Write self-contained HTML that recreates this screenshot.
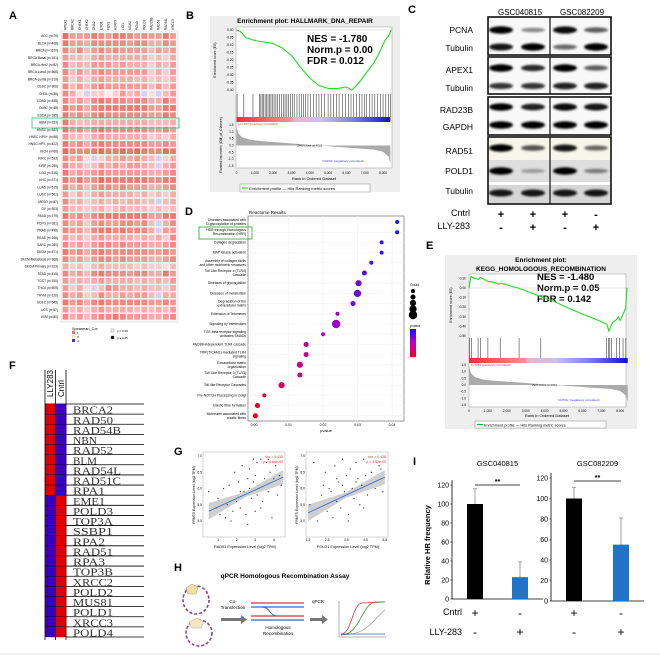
<!DOCTYPE html>
<html><head><meta charset="utf-8"><style>
html,body{margin:0;padding:0;background:#fff;}
svg{display:block;font-family:"Liberation Sans",sans-serif;}
.lbl{font-weight:bold;font-size:11px;}
</style></head><body>
<svg id="fig" width="660" height="656" viewBox="0 0 660 656" xmlns="http://www.w3.org/2000/svg">
<defs>
<filter id="blur" x="-20%" y="-100%" width="140%" height="300%"><feGaussianBlur stdDeviation="1.1"/></filter>
<linearGradient id="bcol" x1="0" x2="1"><stop offset="0" stop-color="#f03030"/><stop offset="0.35" stop-color="#f59090"/><stop offset="0.38" stop-color="#f0b0d0"/><stop offset="0.55" stop-color="#c8c0f0"/><stop offset="0.75" stop-color="#8080ee"/><stop offset="1" stop-color="#1010d0"/></linearGradient>
<linearGradient id="pcol" x1="0" x2="0" y1="0" y2="1"><stop offset="0" stop-color="#1010f0"/><stop offset="0.5" stop-color="#c000c0"/><stop offset="1" stop-color="#f00020"/></linearGradient>
</defs>
<text class="lbl" x="9" y="19">A</text>
<text class="lbl" x="186" y="19">B</text>
<text class="lbl" x="408" y="13">C</text>
<text class="lbl" x="185" y="215">D</text>
<text class="lbl" x="426" y="249">E</text>
<text class="lbl" x="9" y="369">F</text>
<text class="lbl" x="174" y="455">G</text>
<text class="lbl" x="174" y="571">H</text>
<text class="lbl" x="413" y="465">I</text>

<g id="A">
<rect x="61" y="31" width="117" height="291" fill="#fafafa" stroke="#e4e4e4"/>
</g>
<g id="B">
<rect x="210" y="16" width="190" height="176" fill="#eeeeee"/>
<text x="305" y="23" font-size="6.5" font-weight="bold" text-anchor="middle">Enrichment plot: HALLMARK_DNA_REPAIR</text>
<rect x="236" y="27" width="156" height="141" fill="#fff" stroke="#999" stroke-width="0.5"/>
<text x="307" y="42" font-size="10" font-weight="bold">NES = -1.780</text>
<text x="307" y="53" font-size="10" font-weight="bold">Norm.p = 0.00</text>
<text x="307" y="64" font-size="10" font-weight="bold">FDR = 0.012</text>
<text x="314" y="180" font-size="4" text-anchor="middle">Rank in Ordered Dataset</text>
<text transform="translate(216,60) rotate(-90)" font-size="3.5" text-anchor="middle">Enrichment score (ES)</text>
<text transform="translate(222,145) rotate(-90)" font-size="3.5" text-anchor="middle">Ranked list metric (Diff_of_Classes)</text>
<rect x="240" y="184" width="130" height="8" fill="#fff" stroke="#888" stroke-width="0.5"/>
<line x1="242" y1="188" x2="248" y2="188" stroke="#0c0"/>
<text x="249" y="190" font-size="4">Enrichment profile — Hits     Ranking metric scores</text>
</g>
<g id="C">
<text x="520" y="15" font-size="8" text-anchor="middle">GSC040815</text>
<text x="582" y="15" font-size="8" text-anchor="middle">GSC082209</text>
</g>
<g id="D">
<text x="249" y="214" font-size="4.5">Reactome Results</text>
<rect x="248" y="216" width="156" height="205" fill="#fff" stroke="#555" stroke-width="0.6"/>
<text x="326" y="432" font-size="4" text-anchor="middle">pvalue</text>
<rect x="199" y="227" width="53" height="12" fill="none" stroke="#2a2" stroke-width="0.8"/>
<text x="410" y="286" font-size="3.5">Count</text>
<text x="410" y="327" font-size="3.5">pvalue</text>
<rect x="410" y="329" width="6" height="28" fill="url(#pcol)"/>
</g>
<g id="E">
<rect x="445" y="255" width="192" height="174" fill="#eeeeee"/>
<text x="541" y="262" font-size="6.5" font-weight="bold" text-anchor="middle">Enrichment plot:</text>
<text x="541" y="271" font-size="6.5" font-weight="bold" text-anchor="middle">KEGG_HOMOLOGOUS_RECOMBINATION</text>
<rect x="469" y="274" width="157" height="133" fill="#fff" stroke="#999" stroke-width="0.5"/>
<text x="537" y="280" font-size="9.5" font-weight="bold">NES = -1.480</text>
<text x="537" y="291" font-size="9.5" font-weight="bold">Norm.p = 0.05</text>
<text x="537" y="302" font-size="9.5" font-weight="bold">FDR = 0.142</text>
<text x="547" y="417" font-size="4" text-anchor="middle">Rank in Ordered Dataset</text>
<text transform="translate(452,305) rotate(-90)" font-size="3.5" text-anchor="middle">Enrichment score (ES)</text>
<rect x="475" y="421" width="131" height="7" fill="#fff" stroke="#888" stroke-width="0.5"/>
<line x1="477" y1="424.5" x2="483" y2="424.5" stroke="#0c0"/>
<text x="484" y="426.5" font-size="3.8">Enrichment profile — Hits     Ranking metric scores</text>
</g>
<g id="F">
<text transform="translate(53,397) rotate(-90)" font-size="8">LLY283</text>
<text transform="translate(64,397) rotate(-90)" font-size="8">Cntrl</text>
<line x1="45" y1="370" x2="45" y2="640" stroke="#000" stroke-width="0.8"/>
<line x1="55.5" y1="370" x2="55.5" y2="640" stroke="#000" stroke-width="0.8"/>
<line x1="66" y1="370" x2="66" y2="640" stroke="#000" stroke-width="0.8"/>
<line x1="45" y1="404" x2="144" y2="404" stroke="#000" stroke-width="0.8"/>
</g>
<g id="G"></g>
<g id="H">
<text x="285" y="578" font-size="6.5" font-weight="bold" text-anchor="middle">qPCR Homologous Recombination Assay</text>
<g>
<ellipse cx="196" cy="600" rx="13" ry="14" fill="none" stroke="#d33" stroke-width="1.6" stroke-dasharray="3 2"/>
<ellipse cx="196" cy="600" rx="13" ry="14" fill="none" stroke="#36c" stroke-width="1.2" stroke-dasharray="2 3"/>
<path d="M186 588 l6 -4 l6 3 l-2 7 l-8 0 z" fill="#f3e0a0" stroke="#b88" stroke-width="0.5"/>
</g>
<g>
<ellipse cx="199" cy="633" rx="13" ry="13" fill="none" stroke="#d33" stroke-width="1.6" stroke-dasharray="3 2"/>
<ellipse cx="199" cy="633" rx="13" ry="13" fill="none" stroke="#36c" stroke-width="1.2" stroke-dasharray="2 3"/>
<path d="M189 622 l8 -4 l7 4 l-3 6 l-9 0 z" fill="#f3e8c0" stroke="#aaa" stroke-width="0.5"/>
</g>
<text x="233" y="603" font-size="4.5" text-anchor="middle">Co-</text>
<text x="233" y="609" font-size="4.5" text-anchor="middle">Transfection</text>
<path d="M221 618 h20 v-3 l6 4.5 l-6 4.5 v-3 h-20 z" fill="#777"/>
<g>
<line x1="251" y1="603" x2="304" y2="603" stroke="#d33" stroke-width="1.2"/>
<line x1="251" y1="607" x2="304" y2="607" stroke="#36c" stroke-width="1.2"/>
<line x1="251" y1="616" x2="304" y2="616" stroke="#d33" stroke-width="1.2"/>
<line x1="251" y1="620" x2="304" y2="620" stroke="#36c" stroke-width="1.2"/>
<path d="M262 607 q5 0 8 5 q3 4 8 4" fill="none" stroke="#36c" stroke-width="1"/>
</g>
<text x="278" y="629" font-size="4.5" text-anchor="middle">Homologous</text>
<text x="278" y="635" font-size="4.5" text-anchor="middle">Recombination</text>
<text x="318" y="603" font-size="4.5" text-anchor="middle">qPCR</text>
<path d="M310 618 h12 v-3 l6 4.5 l-6 4.5 v-3 h-12 z" fill="#777"/>
<g>
<line x1="339" y1="601" x2="339" y2="637" stroke="#666" stroke-width="0.5"/>
<line x1="339" y1="637" x2="386" y2="637" stroke="#666" stroke-width="0.5"/>
<path d="M341 634 C352 634 352 604 362 603 L385 602" fill="none" stroke="#d33" stroke-width="0.8"/>
<path d="M341 635 C360 635 362 604 375 602 L385 602" fill="none" stroke="#393" stroke-width="0.8"/>
<path d="M341 635 C368 635 372 620 385 610" fill="none" stroke="#88a" stroke-width="0.6"/>
<line x1="341" y1="634" x2="385" y2="634" stroke="#36c" stroke-width="0.8"/>
</g>
</g>
<g id="I">
<text transform="translate(430,545) rotate(-90)" font-size="7.5" font-weight="bold" text-anchor="middle">Relative HR frequency</text>
<text x="462" y="615" font-size="9" text-anchor="end">Cntrl</text>
<text x="462" y="635" font-size="9" text-anchor="end">LLY-283</text>
</g>
<line x1="0" y1="654" x2="660" y2="654" stroke="#ddd"/>
</svg>
<script>
const NS='http://www.w3.org/2000/svg';
function mk(p,tag,a,t){const e=document.createElementNS(NS,tag);for(const k in a)e.setAttribute(k,a[k]);if(t!=null)e.textContent=t;p.appendChild(e);return e;}

/* ---------- A: pan-cancer heatmap ---------- */
const cancerTypes=["ACC (n=79)","BLCA (n=408)","BRCA (n=1100)","BRCA-Basal (n=191)","BRCA-Her2 (n=82)","BRCA-LumA (n=568)","BRCA-LumB (n=219)","CESC (n=306)","CHOL (n=36)","COAD (n=458)","DLBC (n=48)","ESCA (n=185)","GBM (n=153)","HNSC (n=522)","HNSC-HPV+ (n=98)","HNSC-HPV- (n=422)","KICH (n=66)","KIRC (n=533)","KIRP (n=290)","LGG (n=516)","LIHC (n=371)","LUAD (n=515)","LUSC (n=501)","MESO (n=87)","OV (n=303)","PAAD (n=179)","PCPG (n=181)","PRAD (n=498)","READ (n=166)","SARC (n=260)","SKCM (n=471)","SKCM-Metastasis (n=368)","SKCM-Primary (n=103)","STAD (n=415)","TGCT (n=150)","THCA (n=509)","THYM (n=120)","UCEC (n=545)","UCS (n=57)","UVM (n=80)"];
const repairGenes=["APEX1","BRCA2","CHEK1","CHEK2","DNA2","EXO1","FEN1","H2AFX","LIG1","MSH2","PCNA","POLD1","RAD23B","RAD51","RAD54L","XRCC3"];
const corrRows=["9666876887676686","8665777776775576","7574676766664656","6443565555553435","7454666565553546","7464676666663536","6353565555453435","7464676666664646","752n3313645n2n46","7564787776775586","8675788888886688","8675787777776687","8544555555554445","8675787777776676","6443565555553435","8675787777776676","9777898898987798","7562n35565654n35","7553465656654n56","8565676666665567","8686798888887788","7564677676665567","6353565555453435","7453454545544n45","6443453454443434","8675788888886688","7563676677674n57","7664788787775n66","6453565555454537","7564677676665567","8675787777776676","7564677676665567","5342454444343324","7564787776775586","6454565555454546","6352n47655454435","7563475565664n55","8675787777776676","6453565555454546","7564677876665567"];
(function(){
 const g=document.getElementById('A');
 const x0=65.5,y0=36,dx=7.17,dy=7.2;
 repairGenes.forEach((gn,j)=>{
  const t=mk(g,'text',{transform:`translate(${x0+j*dx+1},30) rotate(-90)`,'font-size':3.2});
  t.textContent=gn;
  
  
 });
 cancerTypes.forEach((ct,i)=>{
  const t=mk(g,'text',{x:58,y:y0+i*dy+1.2,'font-size':3.2,'text-anchor':'end'},ct);
  
  
  corrRows[i].split('').forEach((ch,j)=>{
   let fill;
   if(ch==='n'){fill='#d8d0f4';}
   else{const v=(+ch)/9;fill=`rgb(${Math.round(255-20*v)},${Math.round(255-150*v)},${Math.round(255-160*v)})`;}
   const r=mk(g,'rect',{x:x0+j*dx-2.9,y:y0+i*dy-2.9,width:5.8,height:5.8,fill:fill});
   
   
  });
 });
 const b=mk(g,'rect',{x:32,y:118,width:147,height:10,fill:'none',stroke:'#3c8','stroke-width':0.9});
 
 
 const lt=mk(g,'text',{x:72,y:330,'font-size':3.8},'Spearman_Cor');
 
 
 [['#f07068','1',333],['#f3dada','0',337],['#5030c0','-1',341]].forEach(d=>{
  const r=mk(g,'rect',{x:72,y:d[2]-2,width:3,height:3,fill:d[0]});
  
  
  const t=mk(g,'text',{x:77,y:d[2]+1,'font-size':3},d[1]);
  
  
 });
 [['#fff','p > 0.05',331],['#000','p ≤ 0.05',338]].forEach(d=>{
  const r=mk(g,'rect',{x:111,y:d[2]-2,width:3,height:3,fill:d[0],stroke:'#777','stroke-width':0.4});
  
  
  const t=mk(g,'text',{x:117,y:d[2]+1,'font-size':3},d[1]);
  
  
 });
})();

/* ---------- GSEA helper ---------- */
const esRanksB=[0,200,500,1000,1500,2000,2500,3000,3500,4000,4500,5000,5500,6000,6300,6700,7000,7500,7800,8100,8300,8450];
const esValuesB=[0,-0.01,-0.05,-0.07,-0.08,-0.09,-0.12,-0.17,-0.25,-0.32,-0.37,-0.39,-0.39,-0.38,-0.40,-0.35,-0.30,-0.22,-0.15,-0.07,-0.04,0.0];
const hitsB=[30,400,900,1250,1330,1400,1480,1560,1650,1720,1800,1880,1950,2050,2150,2250,2350,2450,2560,2650,2750,2850,2950,3050,3150,3300,3420,3550,3650,3780,3900,4050,4200,4350,4500,4650,4800,5000,5150,5300,5450,5600,5800,5950,6100,6250,6400,6550,6700,6850,7000,7100,7250,7400,7550,7700,7850,8000,8150,8300,8400];
const esTicksB=[0,-0.05,-0.1,-0.15,-0.2,-0.25,-0.3,-0.35,-0.4];
const esRanksE=[0,100,300,500,600,900,1000,1300,1600,1700,2200,2600,3000,3800,4500,5500,6500,7000,7300,7400,7500,7600,7800,7900,8000,8200,8300,8350];
const esValuesE=[0,0.12,0.10,0.09,0.11,0.08,0.07,0.06,0.04,0.05,0.02,0.0,-0.03,-0.09,-0.14,-0.23,-0.31,-0.35,-0.38,-0.45,-0.40,-0.36,-0.33,-0.30,-0.34,-0.25,-0.20,0.0];
const hitsE=[40,120,480,620,1000,1650,2650,3800,7280,7380,7450,7550,7800,7950,8150,8300];
const esTicksE=[0.1,0.0,-0.1,-0.2,-0.3,-0.4,-0.5];
const rankTicks=[0,1000,2000,3000,4000,5000,6000,7000,8000];
const metricTicks=[1.5,1.0,0.5,0.0,-0.5,-1.0,-1.5];

function gsea(gid,o){
 const g=document.getElementById(gid);
 const X=r=>o.x0+r*o.kx, Y=v=>o.esZero-v*o.ky, M=v=>o.mZero-v*o.mk;
 o.esTicks.forEach(t=>{const e=mk(g,'text',{x:o.x0-3,y:Y(t)+1,'font-size':3.3,'text-anchor':'end'},t.toFixed(2));
  
  });
 const zl=mk(g,'line',{x1:o.x0,x2:X(8500),y1:Y(0),y2:Y(0),stroke:'#bbb','stroke-width':0.4});
 
 
 const pts=o.ranks.map((r,i)=>X(r).toFixed(1)+','+Y(o.vals[i]).toFixed(1)).join(' ');
 const pl=mk(g,'polyline',{points:pts,fill:'none',stroke:'#2d2','stroke-width':1.1});
 
 
 o.hits.forEach(h=>{const l=mk(g,'line',{x1:X(h),x2:X(h),y1:o.hitTop,y2:o.hitBot,stroke:'#000','stroke-width':0.45});
  
  });
 const cb=mk(g,'rect',{x:X(0),y:o.hitBot,width:X(8400)-X(0),height:5,fill:'url(#bcol)'});
 
 
 const pt=mk(g,'text',{x:X(0)+2,y:o.hitBot+8,'font-size':3,fill:'#e33'},'LLY283 (positively correlated)');
 
 
 const nt=mk(g,'text',{x:X(5800),y:M(-1.2),'font-size':3,fill:'#33e','text-anchor':'middle'},"'CNTRL' (negatively correlated)");
 
 
 metricTicks.forEach(t=>{const e=mk(g,'text',{x:o.x0-3,y:M(t)+1,'font-size':3.2,'text-anchor':'end'},t.toFixed(1));
  
  });
 const mr=[0,100,300,800,1500,2500,3500,4500,5500,6500,7500,8000,8300,8400];
 const mv=[1.4,0.9,0.6,0.4,0.3,0.2,0.1,0.0,-0.1,-0.2,-0.3,-0.45,-0.8,-1.3];
 let d=`M${X(0)},${M(0)} `+mr.map((r,i)=>`L${X(r).toFixed(1)},${M(mv[i]).toFixed(1)}`).join(' ')+` L${X(8400)},${M(0)} Z`;
 const ar=mk(g,'path',{d:d,fill:'#aaa'});
 
 
 const zt=mk(g,'text',{x:X(4000),y:M(0)+1,'font-size':3,'text-anchor':'middle'},'Zero cross at 4001');
 
 
 rankTicks.forEach(t=>{const e=mk(g,'text',{x:X(t),y:o.tickY,'font-size':3.2,'text-anchor':'middle'},t===0?'0':t.toLocaleString('en-US'));
  
  });
}
gsea('B',{x0:236.5,kx:0.01832,esZero:30,ky:150,mZero:145.5,mk:13.7,esTicks:esTicksB,ranks:esRanksB,vals:esValuesB,hits:hitsB,hitTop:94,hitBot:117,tickY:174});
gsea('E',{x0:469,kx:0.0189,esZero:288,ky:96,mZero:385,mk:13.3,esTicks:esTicksE,ranks:esRanksE,vals:esValuesE,hits:hitsE,hitTop:338,hitBot:358,tickY:412});

/* ---------- C: western blots ---------- */
const laneX=[501,533,565,596];
const blotBoxes=[[17,55],[57,94],[97,135],[137,204]];
const blotNames=["PCNA","Tubulin","APEX1","Tubulin","RAD23B","GAPDH","RAD51","POLD1","Tubulin"];
const blotY=[30,47,68,86,107,125,148,171,193];
const blotLabelY=[33,51,73,91,113,130,154,174,194];
const bandIntensity=[[1,0.35,0.95,0.55],[0.9,1,0.5,1],[1,0.8,1,0.55],[0.75,0.75,0.85,0.85],[1,0.85,0.95,0.9],[1,1,1,1],[1,0.6,0.9,0.5],[1,0.2,1,0.35],[0.9,0.9,0.9,0.9]];
const cntrlSigns=["+","+","+","-"];
const llySigns=["-","+","-","+"];
(function(){
 const g=document.getElementById('C');
 blotBoxes.forEach((b,i)=>{
  if(i===3){
   const r1=mk(g,'rect',{x:488,y:b[0],width:123,height:24,fill:'#f6f6ea'});
   
   
   const r2=mk(g,'rect',{x:488,y:b[0]+23,width:123,height:22,fill:'#dedede'});
   
   
   const r3=mk(g,'rect',{x:488,y:b[0]+48,width:123,height:19,fill:'#d6d6d6'});
   
   
  }
  const r=mk(g,'rect',{x:488,y:b[0],width:123,height:b[1]-b[0],fill:i===3?'none':'#f8f8f8',stroke:'#111','stroke-width':1.6});
  
  
  const l=mk(g,'line',{x1:550,x2:550,y1:b[0],y2:b[1],stroke:'#111','stroke-width':1.2});
  
  
 });
 blotNames.forEach((n,i)=>{
  const t=mk(g,'text',{x:473,y:blotLabelY[i],'font-size':8.5,'text-anchor':'end'},n);
  
  
  laneX.forEach((x,j)=>{
   const v=bandIntensity[i][j];
   const e=mk(g,'ellipse',{cx:x,cy:blotY[i],rx:12,ry:1.5+2.2*v,fill:'#000','fill-opacity':0.15+0.85*v,filter:'url(#blur)'});
   
   
  });
 });
 const c=mk(g,'text',{x:470,y:216,'font-size':9,'text-anchor':'end'},'Cntrl');
 
 
 const l2=mk(g,'text',{x:470,y:229,'font-size':9,'text-anchor':'end'},'LLY-283');
 
 
 laneX.forEach((x,j)=>{
  const a=mk(g,'text',{x:x,y:218,'font-size':11,'font-weight':'bold','text-anchor':'middle'},cntrlSigns[j]);
  
  
  const b=mk(g,'text',{x:x,y:231,'font-size':11,'font-weight':'bold','text-anchor':'middle'},llySigns[j]);
  
  
 });
})();

/* ---------- D: Reactome dot plot ---------- */
const reactomeTerms=["Diseases associated with O-glycosylation of proteins","HDR through Homologous Recombination (HRR)","Collagen degradation","MAP kinase activation","Assembly of collagen fibrils and other multimeric structures","Toll Like Receptor 4 (TLR4) Cascade","Diseases of glycosylation","Diseases of metabolism","Degradation of the extracellular matrix","Extension of Telomeres","Signaling by Interleukins","TGF-beta receptor signaling activates SMADs","MyD88-independent TLR4 cascade","TRIF(TICAM1)-mediated TLR4 signaling","Extracellular matrix organization","Toll Like Receptor 3 (TLR3) Cascade","Toll-like Receptor Cascades","Pre-NOTCH Processing in Golgi","Elastic fibre formation","Molecules associated with elastic fibres"];
const reactomePvals=[0.0415,0.0415,0.037,0.037,0.034,0.032,0.0303,0.030,0.0287,0.0242,0.0238,0.020,0.0151,0.0151,0.0133,0.0133,0.008,0.003,0.001,0.0004];
const reactomeCounts=[2,2,2,2,2,3,4,5,3,2,6,2,3,3,4,3,4,2,3,3];
const pTicks=[0,0.01,0.02,0.03,0.04];
(function(){
 const g=document.getElementById('D');
 const X=p=>254+p*3450, Y=i=>222+i*10.2;
 pTicks.forEach(t=>{
  const gl=mk(g,'line',{x1:X(t),x2:X(t),y1:216,y2:421,stroke:'#eee','stroke-width':0.5});
  
  
  const e=mk(g,'text',{x:X(t),y:426,'font-size':3.5,'text-anchor':'middle'},t.toFixed(2));
  
  
 });
 function col(p){const f=Math.min(1,p/0.042);
  let r,gg,b; if(f<0.5){const u=f/0.5;r=240-60*u;gg=0;b=30+170*u;}else{const u=(f-0.5)/0.5;r=180-160*u;gg=20*u;b=200+40*u;}
  return `rgb(${r|0},${gg|0},${b|0})`;}
 reactomeTerms.forEach((t,i)=>{
  const gl=mk(g,'line',{x1:248,x2:404,y1:Y(i),y2:Y(i),stroke:'#f0f0f0','stroke-width':0.5});
  
  
  const words=t.length>30?[t.slice(0,t.lastIndexOf(' ',28)),t.slice(t.lastIndexOf(' ',28)+1)]:[t];
  words.forEach((w,k)=>{
   const e=mk(g,'text',{x:246,y:Y(i)+1+(k-(words.length-1)/2)*4,'font-size':3.4,'text-anchor':'end'},w);
   
   
  });
  const c=mk(g,'circle',{cx:X(reactomePvals[i]),cy:Y(i),r:0.9+reactomeCounts[i]*0.55,fill:col(reactomePvals[i])});
  
  
 });
 [2,3,4,5,6].forEach((c,k)=>{
  const e=mk(g,'circle',{cx:413,cy:291+k*6,r:0.9+c*0.55,fill:'#000'});
  
  
 });
})();

/* ---------- F: gene heatmap ---------- */
const hrGenes=["BRCA2","RAD50","RAD54B","NBN","RAD52","BLM","RAD54L","RAD51C","RPA1","EME1","POLD3","TOP3A","SSBP1","RPA2","RAD51","RPA3","TOP3B","XRCC2","POLD2","MUS81","POLD1","XRCC3","POLD4"];
const llyHigh=[1,1,1,1,1,1,1,1,1,0,0,0,0,0,0,0,0,0,0,0,0,0,0];
(function(){
 const g=document.getElementById('F');
 const y0=404,h=(637-404)/hrGenes.length;
 hrGenes.forEach((gn,i)=>{
  const y=y0+i*h;
  const a=mk(g,'rect',{x:45.5,y:y,width:10,height:h,fill:llyHigh[i]?'#e00000':'#3a00c0',stroke:'#000','stroke-width':0.3});
  
  
  const b=mk(g,'rect',{x:55.5,y:y,width:10.5,height:h,fill:llyHigh[i]?'#3a00c0':'#e00000',stroke:'#000','stroke-width':0.3});
  
  
  const t=mk(g,'text',{x:73,y:y+h-0.5,'font-size':10.5,'font-family':'Liberation Serif, serif',fill:'#333',textLength:Math.min(50,gn.length*8),lengthAdjust:'spacingAndGlyphs'},gn);
  
  
  const l=mk(g,'line',{x1:66,x2:144,y1:y+h,y2:y+h,stroke:'#000','stroke-width':0.8});
  
  
 });
})();

/* ---------- G: scatter plots ---------- */
const rad51X=[0.5,0.9,1.0,1.1,1.3,1.4,1.6,1.7,1.8,1.9,2.0,2.1,2.2,2.3,2.4,2.5,2.6,2.6,2.7,2.8,2.9,3.0,3.0,3.1,3.2,3.3,3.4,3.5,3.6,3.7,3.8,3.9,4.0,4.1,4.2,4.4,2.9,3.3,2.2,1.5,3.7,2.7,3.1,4.3];
const rad51Y=[5.9,5.4,5.7,5.2,6.0,5.1,6.1,5.0,5.3,6.5,5.6,6.2,5.4,6.7,5.9,5.2,6.3,4.9,6.6,5.7,6.9,6.4,5.3,6.8,6.0,6.9,5.6,6.3,6.8,5.9,6.5,5.1,6.3,6.7,5.8,6.1,6.2,5.4,5.9,5.5,6.9,6.0,5.8,6.4];
const pold1X=[1.6,1.8,2.0,2.2,2.4,2.5,2.6,2.8,2.9,3.0,3.1,3.2,3.3,3.4,3.5,3.6,3.7,3.8,3.9,4.0,4.1,4.2,4.3,4.4,4.5,4.6,4.8,5.0,5.2,5.4,3.0,3.6,4.0,2.7,3.3,4.4,5.3,2.3];
const pold1Y=[5.5,6.8,5.0,5.8,6.5,5.3,6.0,5.1,6.7,5.6,6.2,5.4,6.9,5.9,6.4,5.2,6.6,6.0,5.7,6.8,6.3,5.5,6.1,6.9,6.4,5.8,6.5,6.0,6.7,5.9,6.3,5.0,6.2,5.9,6.1,5.4,6.6,6.1];
const gXTicks1=[1,2,3,4], gXTicks2=[1.5,2.5,3.5,4.5,5.5], gYTicks=[5.0,5.5,6.0,6.5,7.0];
const fit1=[[0.5,5.3],[4.5,6.35]], fit2=[[1.5,5.25],[5.5,6.35]];
(function(){
 const g=document.getElementById('G');
 const Y=v=>521-(v-5)*32.5;
 function plot(px0,xmin,kx,xs,ys,ticks,fit,xlab,rho,pv,name){
  const X=v=>px0+(v-xmin)*kx;
  const fr=mk(g,'rect',{x:px0-2,y:452,width:82,height:85,fill:'#fff',stroke:'#bbb','stroke-width':0.6});
  
  
  gYTicks.forEach(t=>{const e=mk(g,'text',{x:px0-3,y:Y(t)+1,'font-size':3.3,'text-anchor':'end'},t.toFixed(1));
   
   });
  ticks.forEach(t=>{const e=mk(g,'text',{x:X(t),y:541,'font-size':3.3,'text-anchor':'middle'},String(t));
   
   });
  const [a,b]=fit;
  const band=mk(g,'path',{d:`M${X(a[0])},${Y(a[1]+0.25)} L${X((a[0]+b[0])/2)},${Y((a[1]+b[1])/2+0.08)} L${X(b[0])},${Y(b[1]+0.22)} L${X(b[0])},${Y(b[1]-0.22)} L${X((a[0]+b[0])/2)},${Y((a[1]+b[1])/2-0.08)} L${X(a[0])},${Y(a[1]-0.25)} Z`,fill:'#bbb','fill-opacity':0.7});
  
  
  xs.forEach((x,i)=>{const c=mk(g,'circle',{cx:X(x),cy:Y(ys[i]),r:0.6,fill:'#222'});
   
   });
  const l=mk(g,'line',{x1:X(a[0]),y1:Y(a[1]),x2:X(b[0]),y2:Y(b[1]),stroke:'#3a6fd0','stroke-width':0.9});
  
  
  const r=mk(g,'text',{x:px0+78,y:458,'font-size':3.5,fill:'#e22','text-anchor':'end'},rho);
  
  
  const p=mk(g,'text',{x:px0+78,y:463,'font-size':3.5,fill:'#e22','text-anchor':'end'},pv);
  
  
  const xl=mk(g,'text',{x:px0+40,y:548,'font-size':3.8,'text-anchor':'middle'},xlab);
  
  
  const yl=mk(g,'text',{transform:`translate(${px0-10},495) rotate(-90)`,'font-size':3.5,'text-anchor':'middle'},'PRMT5 Expression Level (log2 TPM)');
  
  
 }
 plot(205,0.3,18.6,rad51X,rad51Y,gXTicks1,fit1,'RAD51 Expression Level (log2 TPM)','rho = 0.419','p = 6.84e-09','rad51-scatter');
 plot(308,1.5,19.2,pold1X,pold1Y,gXTicks2,fit2,'POLD1 Expression Level (log2 TPM)','rho = 0.426','p = 3.52e-09','pold1-scatter');
})();

/* ---------- I: bar charts ---------- */
const barCategories=["Cntrl","LLY-283"];
const hrMeans1=[100,23], hrErr1=[16,16];
const hrMeans2=[100,55], hrErr2=[11,26];
const hrTicks=[0,20,40,60,80,100,120];
(function(){
 const g=document.getElementById('I');
 function chart(ax,axEnd,zero,k,means,errs,barX,title,sigY,name){
  const Y=v=>zero-v*k;
  const t=mk(g,'text',{x:(ax+axEnd)/2,y:466,'font-size':7.5,'text-anchor':'middle'},title);
  
  
  const a=mk(g,'line',{x1:ax,x2:ax,y1:Y(125),y2:zero,stroke:'#000','stroke-width':0.8});
  
  
  const b=mk(g,'line',{x1:ax,x2:axEnd,y1:zero,y2:zero,stroke:'#000','stroke-width':0.8});
  
  
  hrTicks.forEach(v=>{const e=mk(g,'text',{x:ax-3,y:Y(v)+2.5,'font-size':7,'text-anchor':'end'},String(v));
   
   
   const tk=mk(g,'line',{x1:ax-1.5,x2:ax,y1:Y(v),y2:Y(v),stroke:'#000','stroke-width':0.6});
   
   });
  means.forEach((m,i)=>{
   const e=mk(g,'line',{x1:barX[i]+8,x2:barX[i]+8,y1:Y(m),y2:Y(m+errs[i]),stroke:'#888','stroke-width':0.8});
   
   
   const c=mk(g,'line',{x1:barX[i]+6,x2:barX[i]+10,y1:Y(m+errs[i]),y2:Y(m+errs[i]),stroke:'#888','stroke-width':0.8});
   
   
   const r=mk(g,'rect',{x:barX[i],y:Y(m),width:16,height:m*k,fill:i===0?'#000':'#1f74c8'});
   
   
   const s1=mk(g,'text',{x:barX[i]+8,y:617,'font-size':12,'text-anchor':'middle'},i===0?'+':'-');
   
   
   const s2=mk(g,'text',{x:barX[i]+8,y:636,'font-size':12,'text-anchor':'middle'},i===0?'-':'+');
   
   
  });
  const sl=mk(g,'line',{x1:barX[0]+8,x2:barX[1]+8,y1:sigY,y2:sigY,stroke:'#000','stroke-width':0.8});
  
  
  const st=mk(g,'text',{x:(barX[0]+barX[1])/2+8,y:sigY-1,'font-size':7,'font-weight':'bold','text-anchor':'middle'},'**');
  
  
 }
 chart(452,543,599,0.95,hrMeans1,hrErr1,[467,512],'GSC040815',485,'chart-gsc040815');
 chart(551,644,601,1.025,hrMeans2,hrErr2,[566,613],'GSC082209',481,'chart-gsc082209');
})();
</script>
</body></html>
